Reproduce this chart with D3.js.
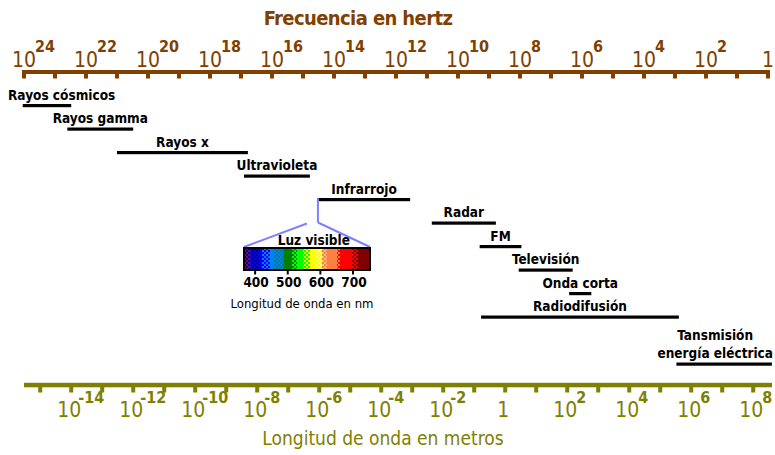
<!DOCTYPE html>
<html>
<head>
<meta charset="utf-8">
<script src="https://cdn.jsdelivr.net/npm/d3@7"></script>
<style>
  body { margin: 0; background: #fff; }
  svg { display: block; font-family: "DejaVu Sans Condensed", "DejaVu Sans", sans-serif; }
</style>
</head>
<body>
<div id="chart"></div>
<script>
// frequency axis (Hz): exponents with a tick, exponents with a label
const freqTickExp = [24,23,22,21,20,19,18,17,16,15,14,13,12,11,10,9,8,7,6,5,4,3,2,1,0];
const freqLabelExp = [24,22,20,18,16,14,12,10,8,6,4,2,0];
// wavelength axis (m)
const waveTickExp = [-15,-14,-13,-12,-11,-10,-9,-8,-7,-6,-5,-4,-3,-2,-1,0,1,2,3,4,5,6,7,8];
const waveLabelExp = [-14,-12,-10,-8,-6,-4,-2,0,2,4,6,8];

// bands: name lines, frequency range (Hz), row
const bandNames = [["Rayos cósmicos"],["Rayos gamma"],["Rayos x"],["Ultravioleta"],["Infrarrojo"],
  ["Radar"],["FM"],["Televisión"],["Onda corta"],["Radiodifusión"],["Tansmisión","energía eléctrica"]];
const bandFreqHigh = [1.1e24, 4e22, 1e21, 8e16, 3.3e14, 7e10, 2e9, 1.1e8, 2.6e6, 1.8e9, 9e2];
const bandFreqLow  = [3e22, 3e20, 6e16, 6e14, 3.5e11, 6e8, 9e7, 2e6, 5e5, 7.5e2, 0.75];
const bandRow      = [0, 1, 2, 3, 4, 5, 6, 7, 8, 9, 11];

// visible light inset
const visibleFreq = [7.5e14, 3.3e14];      // edges of the visible window on the frequency axis
const nmTicks = [400, 500, 600, 700];
const nmRange = [366, 752];
const spectrumFrom = [366,385,415,421,446,455,486,513,529,547,568,584,605,620,651,660,697,715];
const spectrumTo   = [385,415,421,446,455,486,513,529,547,568,584,605,620,651,660,697,715,752];
const spectrumColors = [
  ["#800080","#000080"],["#000080","#0000ff"],["#0000ff"],["#0000ff","#0080ff"],["#0080ff"],
  ["#008080","#0080ff"],["#008000"],["#008000","#00ff00"],["#00ff00"],["#00ff00","#ffff00"],
  ["#ffff00"],["#ffff00","#ffff80"],["#ffc080","#ff8040"],["#ff8040"],["#ff8040","#ff0000"],
  ["#ff0000"],["#ff0000","#800000"],["#800000"]];

const c = 3e8;
const brown = "#804000", olive = "#808000", lilac = "#8080ff";

const width = 775, height = 455;
const svg = d3.select("#chart").append("svg")
    .attr("width", width).attr("height", height);

const xF = d3.scaleLog().domain([1e24, 1]).range([24, 768]);
const xW = d3.scaleLog().domain([c / 1e24, c / 1]).range([24, 768]);
const yRow = d3.scaleLinear().domain([0, 11]).range([105.5, 364]);

// ---- top axis (frequency)
svg.append("text")
    .attr("x", 358).attr("y", 25)
    .attr("text-anchor", "middle")
    .attr("fill", brown).attr("font-size", 20).attr("font-weight", "bold")
    .attr("letter-spacing", -0.6)
    .text("Frecuencia en hertz");

svg.append("rect")
    .attr("x", 22).attr("y", 70).attr("width", 748).attr("height", 4)
    .attr("fill", brown);

svg.append("g").selectAll("rect")
  .data(freqTickExp)
  .join("rect")
    .attr("x", d => xF(10 ** d) - 2).attr("y", 73)
    .attr("width", 4).attr("height", 5.5)
    .attr("fill", brown);

const topLab = svg.append("g").attr("fill", brown)
  .selectAll("g")
  .data(freqLabelExp)
  .join("g")
    .attr("transform", d => `translate(${xF(10 ** d)},67)`);

topLab.append("text")
    .attr("text-anchor", "middle").attr("font-size", 21)
    .text(d => d === 0 ? "1" : "10");
topLab.filter(d => d !== 0).append("text")
    .attr("x", 11).attr("y", -15).attr("font-size", 16).attr("font-weight", "bold")
    .text(d => d);

// ---- bands
const bands = bandNames.map((name, i) => ({
  name, high: bandFreqHigh[i], low: bandFreqLow[i], row: bandRow[i]
}));

const band = svg.append("g").selectAll("g")
  .data(bands)
  .join("g");

band.append("rect")
    .attr("x", d => xF(d.high))
    .attr("y", d => yRow(d.row) - 1.5)
    .attr("width", d => xF(d.low) - xF(d.high))
    .attr("height", 3.2)
    .attr("fill", "#000");

band.each(function(d) {
  const g = d3.select(this);
  const t = g.append("text")
      .attr("font-size", 13.5).attr("font-weight", "bold")
      .attr("text-anchor", "middle").attr("fill", "#000");
  const n = d.name.length;
  d.name.forEach((line, k) => {
    t.append("tspan")
      .attr("y", yRow(d.row) - 6 - (n - 1 - k) * 18)
      .text(line);
  });
  const w = d3.max(t.selectAll("tspan").nodes(), s => s.getComputedTextLength());
  let cx = (xF(d.high) + xF(d.low)) / 2;
  cx = Math.max(cx, 8 + w / 2);
  cx = Math.min(cx, 773 - w / 2);
  t.selectAll("tspan").attr("x", cx);
});

// ---- visible light inset
const xNm = d3.scaleLinear().domain(nmRange).range([244, 370]);
const boxTop = 248, boxBottom = 270;
const irY = yRow(4);

const inset = svg.append("g");
inset.append("line")
    .attr("x1", xF(visibleFreq[1])).attr("x2", xF(visibleFreq[1]))
    .attr("y1", irY - 1.5).attr("y2", irY + 23)
    .attr("stroke", lilac).attr("stroke-width", 2);
inset.append("line")
    .attr("x1", xF(visibleFreq[1])).attr("y1", irY + 23)
    .attr("x2", xNm(nmRange[1])).attr("y2", boxTop - 1)
    .attr("stroke", lilac).attr("stroke-width", 2);
inset.append("line")
    .attr("x1", xF(visibleFreq[0])).attr("y1", irY + 24)
    .attr("x2", xNm(nmRange[0])).attr("y2", boxTop - 1)
    .attr("stroke", lilac).attr("stroke-width", 2);

const defs = svg.append("defs");
spectrumColors.forEach((cols, i) => {
  if (cols.length < 2) return;
  const p = defs.append("pattern")
      .attr("id", "dither" + i)
      .attr("patternUnits", "userSpaceOnUse")
      .attr("width", 4).attr("height", 4);
  p.append("rect").attr("width", 4).attr("height", 4).attr("fill", cols[0]);
  p.append("rect").attr("width", 2).attr("height", 2).attr("fill", cols[1]);
  p.append("rect").attr("x", 2).attr("y", 2).attr("width", 2).attr("height", 2).attr("fill", cols[1]);
});

inset.append("g").selectAll("rect")
  .data(spectrumFrom.map((f, i) => ({from: f, to: spectrumTo[i], cols: spectrumColors[i], i})))
  .join("rect")
    .attr("x", d => xNm(d.from))
    .attr("y", boxTop)
    .attr("width", d => xNm(d.to) - xNm(d.from) + 0.5)
    .attr("height", boxBottom - boxTop)
    .attr("fill", d => d.cols.length > 1 ? `url(#dither${d.i})` : d.cols[0]);

inset.append("rect")
    .attr("x", xNm(nmRange[0])).attr("y", boxTop)
    .attr("width", xNm(nmRange[1]) - xNm(nmRange[0]))
    .attr("height", boxBottom - boxTop)
    .attr("fill", "none").attr("stroke", "#000").attr("stroke-width", 2);

inset.append("g").selectAll("rect")
  .data(nmTicks)
  .join("rect")
    .attr("x", d => xNm(d) - 1).attr("y", boxBottom + 1)
    .attr("width", 2).attr("height", 3.5).attr("fill", "#000");

inset.append("g").attr("font-size", 13.5).attr("font-weight", "bold")
  .selectAll("text")
  .data(nmTicks)
  .join("text")
    .attr("x", d => xNm(d) + 1).attr("y", 287)
    .attr("text-anchor", "middle")
    .text(d => d);

inset.append("text")
    .attr("x", xNm(580)).attr("y", 245)
    .attr("text-anchor", "middle")
    .attr("font-size", 13.5).attr("font-weight", "bold")
    .text("Luz visible");

inset.append("text")
    .attr("x", 302).attr("y", 308)
    .attr("text-anchor", "middle")
    .attr("font-size", 13)
    .text("Longitud de onda en nm");

// ---- bottom axis (wavelength)
svg.append("rect")
    .attr("x", 24).attr("y", 382.8).attr("width", 748).attr("height", 4.5)
    .attr("fill", olive);

svg.append("g").selectAll("rect")
  .data(waveTickExp)
  .join("rect")
    .attr("x", d => xW(10 ** d) - 2).attr("y", 386)
    .attr("width", 4).attr("height", 6.5)
    .attr("fill", olive);

const botLab = svg.append("g").attr("fill", olive)
  .selectAll("g")
  .data(waveLabelExp)
  .join("g")
    .attr("transform", d => `translate(${xW(10 ** d) - 2},417)`);

botLab.append("text")
    .attr("text-anchor", "middle").attr("font-size", 21)
    .text(d => d === 0 ? "1" : "10");
botLab.filter(d => d !== 0).append("text")
    .attr("x", d => d < 0 ? 9 : 11).attr("y", -14).attr("font-size", 16).attr("font-weight", "bold")
    .text(d => d);

svg.append("text")
    .attr("x", 383).attr("y", 445)
    .attr("text-anchor", "middle")
    .attr("fill", olive).attr("font-size", 19)
    .text("Longitud de onda en metros");
</script>
</body>
</html>
